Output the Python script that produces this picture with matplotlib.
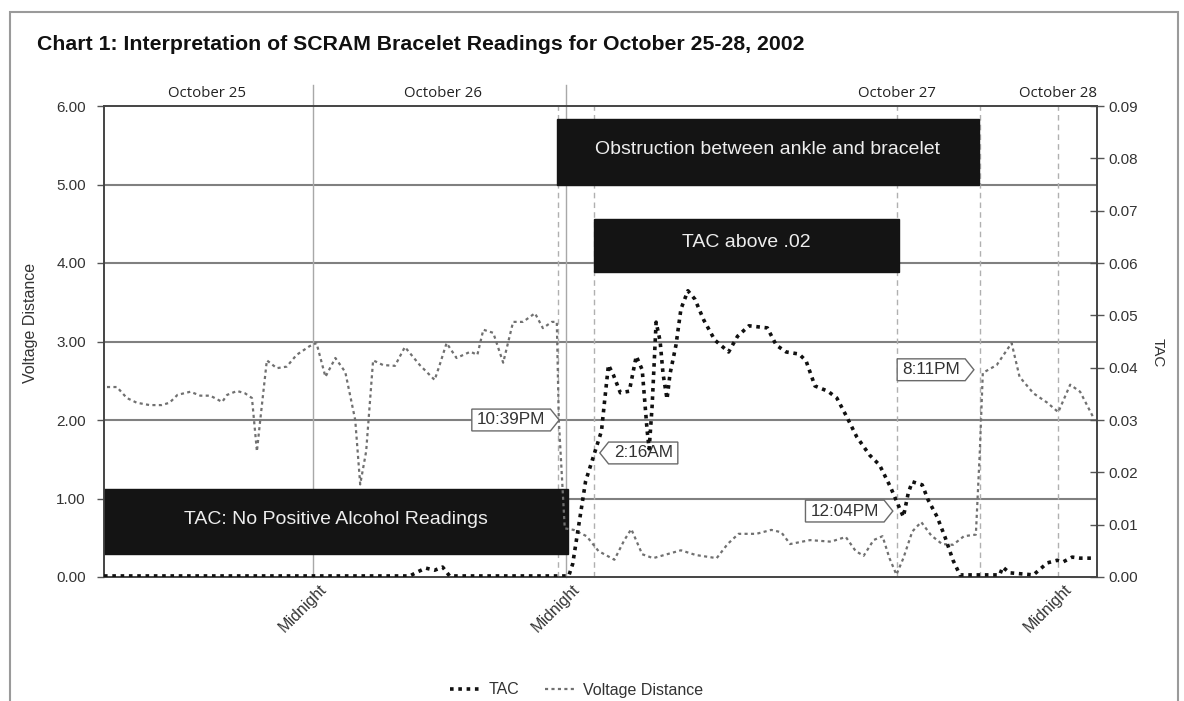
import matplotlib
matplotlib.use("Agg")
import matplotlib.pyplot as plt
from matplotlib.patches import Rectangle
from matplotlib.path import Path
from matplotlib.transforms import ScaledTranslation, blended_transform_factory

# x is the position of a reading along the chart (0 = first reading, 100 = last)
volt_x = [0.3, 1.3, 2.3, 3.3, 4.6, 5.8, 6.6, 7.4, 8.7, 9.7, 10.7, 11.9, 12.4, 13.4,
          14.2, 14.9, 15.4, 15.7, 16.4, 17.4, 18.4, 19.4, 20.7, 21.4, 22.3, 23.3,
          24.3, 25.3, 25.8, 26.4, 27.1, 28.1, 29.3, 30.3, 31.8, 33.3, 33.8, 34.5,
          35.5, 36.9, 37.6, 38.2, 39.2, 40.2, 41.2, 42.2, 43.4, 44.2, 45.1, 45.6,
          45.8, 46.4, 47.3, 48.6, 49.8, 51.4, 52.4, 53.1, 54.2, 55.3, 56.7, 58.1,
          59.6, 61.7, 62.8, 63.9, 65.7, 67.2, 68.2, 69.1, 71.1, 73.2, 74.7, 75.7,
          76.5, 77.5, 78.4, 79.1, 79.8, 80.5, 81.4, 82.3, 83.3, 84.4, 85.5, 86.6,
          87.8, 88.2, 88.5, 89.9, 91.4, 92.2, 93.6, 95.0, 96.1, 97.3, 98.3, 99.6]
volt_y = [2.42, 2.42, 2.28, 2.22, 2.19, 2.19, 2.22, 2.32, 2.36, 2.31, 2.31, 2.23, 2.32, 2.37,
          2.34, 2.28, 1.60, 1.96, 2.76, 2.66, 2.68, 2.83, 2.94, 2.98, 2.55, 2.79,
          2.61, 2.00, 1.18, 1.60, 2.76, 2.70, 2.69, 2.93, 2.70, 2.51, 2.70, 2.98,
          2.79, 2.87, 2.83, 3.15, 3.11, 2.73, 3.25, 3.25, 3.36, 3.17, 3.25, 3.25,
          2.00, 0.62, 0.60, 0.52, 0.33, 0.22, 0.47, 0.61, 0.29, 0.24, 0.29, 0.34,
          0.28, 0.24, 0.42, 0.55, 0.55, 0.60, 0.57, 0.42, 0.47, 0.45, 0.51, 0.33,
          0.27, 0.47, 0.52, 0.24, 0.03, 0.24, 0.58, 0.70, 0.53, 0.42, 0.41, 0.52,
          0.54, 1.60, 2.60, 2.70, 2.98, 2.55, 2.34, 2.22, 2.10, 2.45, 2.36, 2.04]

tac_x = [0.0, 30.8, 31.6, 32.4, 33.3, 34.1, 34.8, 46.8, 47.2, 47.9, 48.5, 49.3, 50.1,
         50.4, 50.8, 51.3, 52.0, 52.9, 53.6, 54.2, 54.7, 54.9, 55.2, 55.6, 56.0, 56.3,
         56.7, 57.0, 57.6, 58.1, 58.8, 59.5, 60.4, 61.5, 62.9, 63.8, 64.95, 66.8, 67.7,
         68.7, 70.0, 70.7, 71.6, 72.9, 73.8, 74.8, 75.8, 77.1, 78.1, 79.2, 79.9, 80.5,
         81.0, 81.4, 82.4, 83.0, 83.9, 84.7, 85.5, 86.2, 90.2, 90.5, 91.2, 93.6, 95.0,
         96.0, 96.6, 97.5, 98.3, 99.6]
tac_y = [0.0002, 0.0002, 0.0010, 0.0017, 0.0013, 0.0019, 0.0002, 0.0002, 0.0025, 0.0110,
         0.0183, 0.0231, 0.0279, 0.0334, 0.0405, 0.0386, 0.0352, 0.0355, 0.0422, 0.0396,
         0.0279, 0.0245, 0.0327, 0.0487, 0.0451, 0.0388, 0.0340, 0.0388, 0.0443, 0.0512,
         0.0547, 0.0531, 0.0491, 0.0453, 0.0430, 0.0460, 0.0480, 0.0476, 0.0443, 0.0430,
         0.0426, 0.0413, 0.0365, 0.0355, 0.0342, 0.0306, 0.0268, 0.0233, 0.0214, 0.0172,
         0.0141, 0.0115, 0.0161, 0.0182, 0.0176, 0.0147, 0.0115, 0.0076, 0.0032, 0.0004,
         0.0004, 0.0019, 0.0008, 0.0004, 0.0027, 0.0032, 0.0029, 0.0038, 0.0036, 0.0036]

date_labels = ["October 25", "October 26", "October 27", "October 28"]
date_pos = [10.4, 34.1, 79.9, 96.1]
day_breaks = [21.0, 46.5]
midnight_pos = [21.0, 46.5, 96.1]
event_labels = ["10:39PM", "2:16AM", "12:04PM", "8:11PM"]
event_pos = [45.7, 49.3, 79.9, 88.2]
volt_ticks = [0, 1, 2, 3, 4, 5, 6]
tac_ticks = [0.00, 0.01, 0.02, 0.03, 0.04, 0.05, 0.06, 0.07, 0.08, 0.09]

band_labels = ["Obstruction between ankle and bracelet", "TAC above .02",
               "TAC: No Positive Alcohol Readings"]
band_start = [45.6, 49.3, 0.0]
band_end = [88.1, 80.1, 46.7]
band_low = [4.99, 3.89, 0.29]
band_high = [5.83, 4.56, 1.12]


def tag_box(side):
    # label box with a pointed end, like the time stamps on the original chart
    def style(x0, y0, width, height, mutation_size):
        px, py = 0.3 * mutation_size, 0.2 * mutation_size
        x0, y0 = x0 - px, y0 - py
        width, height = width + 2 * px, height + 2 * py
        tip = 0.4 * height
        x1, ym, y1 = x0 + width, y0 + height / 2, y0 + height
        if side == "right":
            verts = [(x0, y0), (x1, y0), (x1 + tip, ym), (x1, y1), (x0, y1), (x0, y0)]
        else:
            verts = [(x0, y0), (x1, y0), (x1, y1), (x0, y1), (x0 - tip, ym), (x0, y0)]
        return Path(verts, closed=True)
    return style


plt.rcParams["font.family"] = ["Liberation Sans", "DejaVu Sans"]

fig = plt.figure(figsize=(11.84, 7.01), dpi=100)
ax = fig.add_axes([104 / 1184, 1 - 577 / 701, 993 / 1184, 471 / 701])
ax2 = ax.twinx()

# outer frame
fig.patches.append(Rectangle((10 / 1184, -0.02), 1168 / 1184, 1 - 12 / 701 + 0.02,
                             transform=fig.transFigure, fill=False, ec="#9a9a9a", lw=1.5))

fig.text(37 / 1184, 1 - 44 / 701,
         "Chart 1: Interpretation of SCRAM Bracelet Readings for October 25-28, 2002",
         weight="bold", fontsize=15.3, va="center", ha="left", color="#111111")

ax.set_xlim(0, 100)
ax.set_ylim(0, 6)
ax2.set_ylim(0, 0.09)

for v in volt_ticks[1:-1]:
    ax.axhline(v, color="#808080", lw=1.5, zorder=1)

for p in day_breaks:
    ax.axvline(p, ymin=0, ymax=1.045, color="#a8a8a8", lw=1.0, clip_on=False, zorder=1)
for p in event_pos + [midnight_pos[-1]]:
    ax.axvline(p, color="#b0b0b0", lw=1.0, ls=(0, (4, 3)), zorder=1)

hdr = blended_transform_factory(ax.transData, ax.transAxes)
for lab, p in zip(date_labels, date_pos):
    ax.text(p, 1.026, lab, transform=hdr, ha="center", va="center", fontsize=10.8,
            family=["Open Sans", "DejaVu Sans"], color="#222222")

for lab, x0, x1, y0, y1 in zip(band_labels, band_start, band_end, band_low, band_high):
    ax.add_patch(Rectangle((x0, y0), x1 - x0, y1 - y0, fc="#141414", ec="#141414", zorder=3))
    ax.text((x0 + x1) / 2, (y0 + y1) / 2 + 0.03, lab, ha="center", va="center",
            color="#eeeeee", fontsize=14, zorder=4)

ax.plot(volt_x, volt_y, color="#707070", lw=1.6, ls=(0, (1.4, 1.5)), zorder=5,
        label="Voltage Distance")
ax2.plot(tac_x, tac_y, color="#111111", lw=2.6, ls=(0, (1.0, 1.3)), zorder=6, label="TAC")
ax2.set_zorder(ax.get_zorder() + 1)
ax2.patch.set_visible(False)

callout_x = [41.0, 54.3, 74.6, 83.3]
callout_y = [2.0, 1.58, 0.84, 2.64]
callout_side = ["right", "left", "right", "right"]
for lab, cx, cy, side in zip(event_labels, callout_x, callout_y, callout_side):
    ax.text(cx, cy, lab, ha="center", va="center", fontsize=12.3, color="#333333", zorder=7,
            bbox=dict(boxstyle=tag_box(side), fc="white", ec="#6a6a6a", lw=1.0))

ax.set_yticks(volt_ticks, [f"{v:.2f}" for v in volt_ticks])
ax2.set_yticks(tac_ticks, [f"{v:.2f}" for v in tac_ticks])
ax.tick_params(axis="y", direction="out", length=5, width=1, color="#555555",
               labelsize=11, labelcolor="#333333", pad=8)
ax2.tick_params(axis="y", direction="inout", length=10, width=1, color="#555555",
                labelsize=11, labelcolor="#333333", pad=3)

ax.set_xticks(midnight_pos, ["Midnight"] * len(midnight_pos), rotation=45, ha="center",
              fontsize=11.5, color="#333333")
ax.tick_params(axis="x", length=0, pad=3)
for t in ax.get_xticklabels():
    t.set_transform(t.get_transform() + ScaledTranslation(-10 / 100, 0, fig.dpi_scale_trans))

ax.set_ylabel("Voltage Distance", fontsize=11.5, color="#333333")
ax.yaxis.set_label_coords(-0.0665, 0.54)
ax2.set_ylabel("TAC", fontsize=11, color="#333333", rotation=270, va="center")
ax2.yaxis.set_label_coords(1.0614, 0.476)

for a in (ax, ax2):
    for s in a.spines.values():
        s.set_color("#444444")
        s.set_linewidth(1.2)

h1, l1 = ax2.get_legend_handles_labels()
h2, l2 = ax.get_legend_handles_labels()
fig.legend(h1 + h2, l1 + l2, loc="center", bbox_to_anchor=(577 / 1184, 1 - 690 / 701),
           ncol=2, frameon=False, fontsize=11.5, handlelength=1.8, handletextpad=0.6,
           columnspacing=1.6, labelcolor="#333333")

fig.savefig("out.png", dpi=100)
